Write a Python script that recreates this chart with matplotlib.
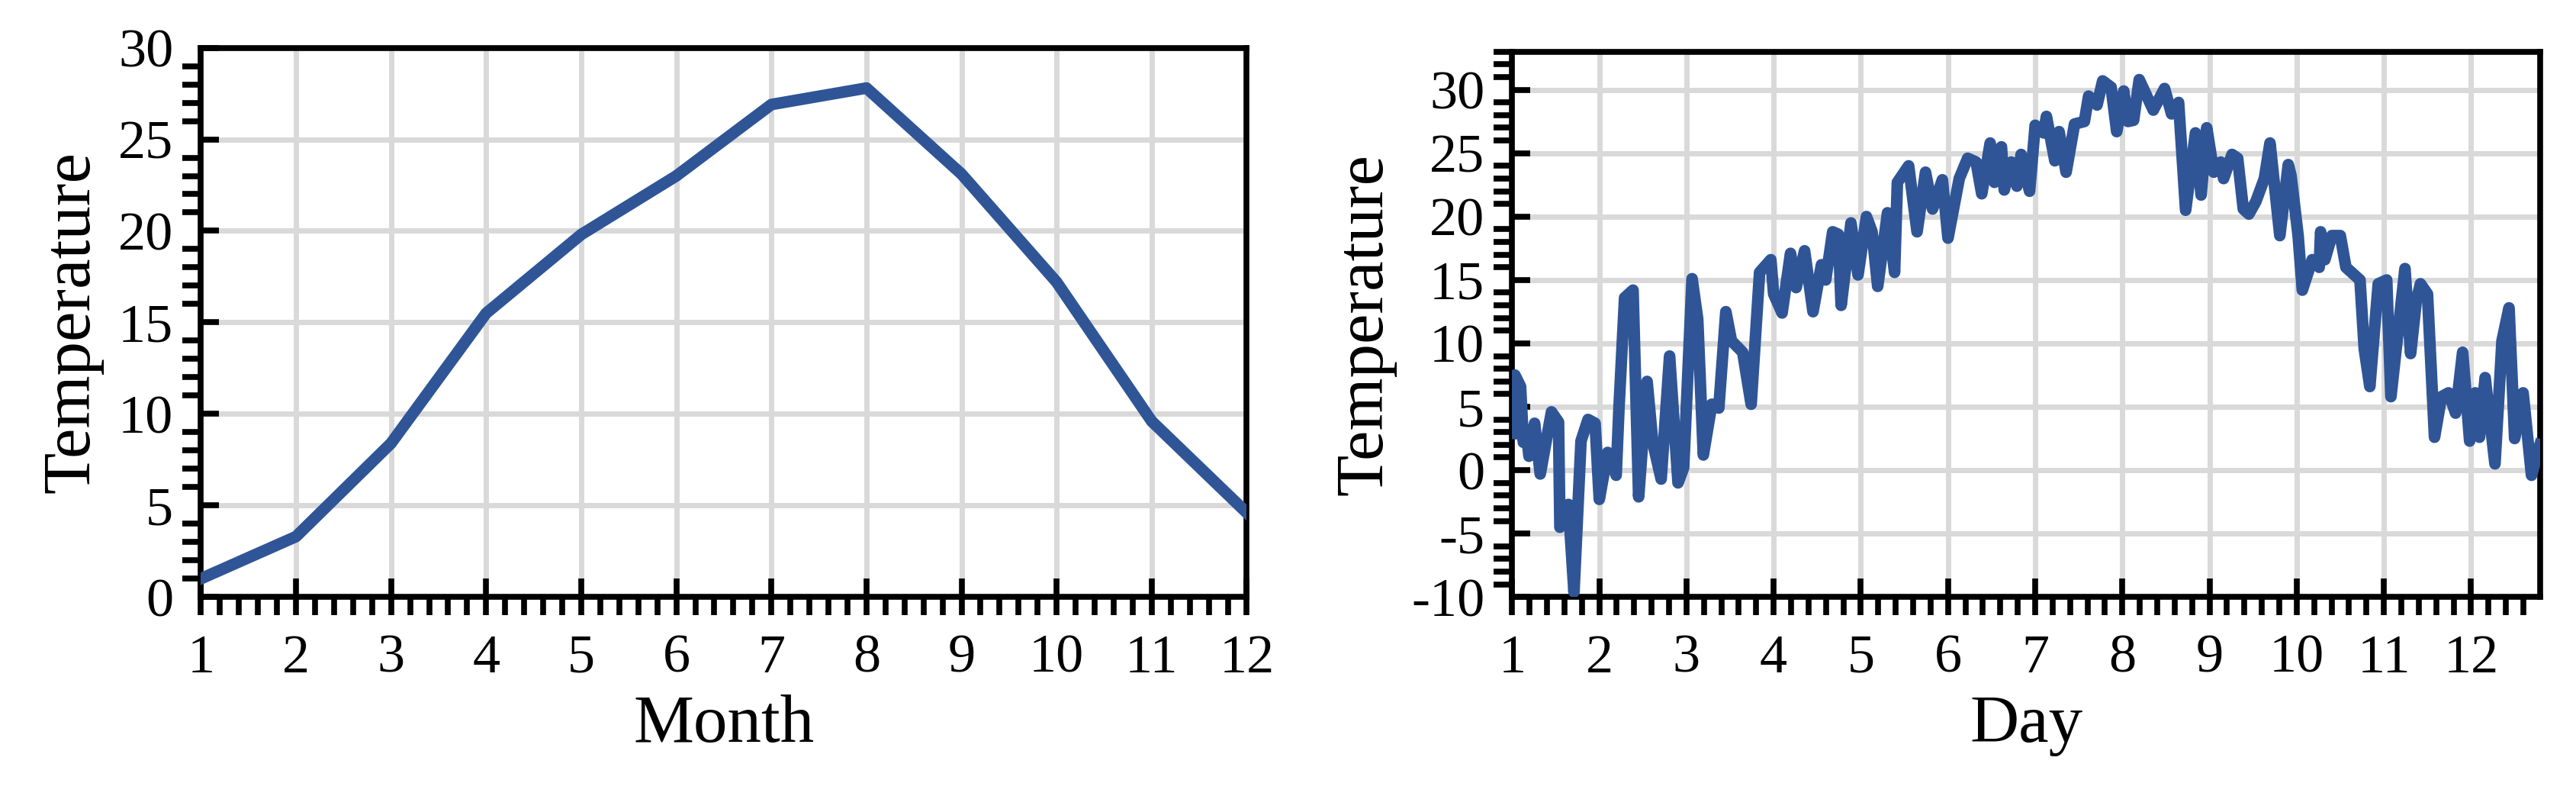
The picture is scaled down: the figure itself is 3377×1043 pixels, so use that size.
import matplotlib
matplotlib.use('Agg')
import matplotlib.pyplot as plt
from matplotlib.ticker import MultipleLocator

plt.rcParams['font.family'] = ['Liberation Serif', 'DejaVu Serif']
plt.rcParams['axes.unicode_minus'] = False

# monthly means
months = [1, 2, 3, 4, 5, 6, 7, 8, 9, 10, 11, 12]
month_temp = [1.0, 3.3, 8.4, 15.5, 19.8, 23.0, 26.9, 27.8, 23.1, 17.2, 9.6, 4.6]

# daily series (day of year, temperature)
days = [0, 1, 3, 4, 5, 6, 8, 10, 14, 16.5, 17, 20, 22, 24.5, 27, 29.5, 31, 34, 37, 38,
        40, 43, 45, 48, 50, 53, 56, 59, 61, 64, 66, 68, 71, 73.5, 76, 78, 82, 85, 88, 92,
        93, 96, 99, 101, 104, 107, 110, 111.5, 114, 116, 117, 120.5, 123, 126, 128, 130,
        133.5, 136, 137, 141, 144, 147, 149.5, 153, 155, 159, 162, 165, 167, 170, 171.5,
        174, 175, 177.5, 179.5, 181, 184, 186,
        189, 190, 193, 194.5, 197, 200, 203.5, 205, 208, 210, 213, 215, 217.5, 219, 221,
        223, 228, 232, 234.5, 237, 239.5, 243, 245, 247, 249.5, 252, 253, 256, 258, 260,
        262, 264.5, 267.5, 269.5, 273, 276, 277, 279.5, 281, 284.5, 287, 287.5, 289, 291.5,
        294.5, 296.5, 298, 301.5, 303, 305, 308, 311, 312.5, 317.5, 319.5, 321.5, 323,
        325.5, 328, 330.5, 333, 335.5, 338, 340.5, 342.5, 344, 346, 349.5, 352, 354.5,
        356.5, 359.5, 362.5, 365.5]
day_temp = [2.9, 7.5, 6.6, 2.2, 3.2, 1.1, 3.7, -0.3, 4.6, 3.8, -4.5, -2.7, -9.6, 2.3, 4.0,
            3.7, -2.3, 1.4, -0.4, 4.9, 13.6, 14.2, -2.1, 7.0, 2.2, -0.7, 9.0, -1.0, 0.2,
            15.1, 11.9, 1.2, 5.2, 4.9, 12.5, 10.2, 9.3, 5.2, 15.6, 16.6, 13.9, 12.4, 17.1,
            14.4, 17.3, 12.5, 16.2, 15.0, 18.8, 18.6, 13.0, 19.5, 15.4, 20.0, 18.8, 14.5,
            20.3, 15.6, 22.7, 24.0, 18.8, 23.5, 20.6, 22.9, 18.3, 23.0, 24.6, 24.3, 21.8,
            25.8, 22.7, 25.5, 22.1, 24.3, 22.4, 24.9, 22.0, 27.2,
            26.6, 27.9, 24.4, 26.7, 23.5, 27.3, 27.5, 29.5, 28.8, 30.7, 30.2, 26.7, 29.9,
            27.5, 27.6, 30.8, 28.4, 30.1, 28.1, 29.0, 20.5, 26.6, 21.7, 27.0, 23.5, 24.3,
            23.0, 24.9, 24.6, 20.6, 20.2, 21.2, 23.0, 25.8, 18.5, 24.1, 23.2, 18.5, 14.2,
            16.6, 16.0, 18.8, 16.6, 18.5, 18.5, 16.0, 15.7, 15.0, 9.6, 6.6, 14.7, 15.0, 5.8,
            15.9, 9.2, 13.3, 14.7, 13.9, 2.6, 5.8, 6.1, 4.5, 9.3, 2.3, 6.1, 2.6, 7.3, 0.5,
            10.2, 12.8, 2.5, 6.1, -0.4, 2.0]

blue = '#2f5597'
fig = plt.figure(figsize=(33.77, 10.43), dpi=100)
ax1 = fig.add_axes([0.078, 0.25, 0.406, 0.69])
ax2 = fig.add_axes([0.587, 0.25, 0.399, 0.685])


def style(ax):
    ax.grid(True, color='#d9d9d9', linewidth=5, zorder=0)
    ax.set_axisbelow(True)
    for s in ax.spines.values():
        s.set_linewidth(5.5)
    ax.tick_params(axis='x', which='major', direction='inout', length=34, width=5.5,
                   labelsize=52, pad=18)
    ax.tick_params(axis='x', which='minor', direction='out', length=17, width=5.5)
    ax.tick_params(axis='y', which='major', direction='in', length=17, width=5.5,
                   labelsize=52, pad=26)
    ax.tick_params(axis='y', which='minor', direction='out', length=17, width=5.5)
    ax.xaxis.set_major_locator(MultipleLocator(1))
    ax.xaxis.set_minor_locator(MultipleLocator(0.2))
    ax.yaxis.set_major_locator(MultipleLocator(5))
    ax.yaxis.set_minor_locator(MultipleLocator(1))


ax1.plot(months, month_temp, color=blue, linewidth=11, zorder=3)
ax1.set_xlim(1, 12)
ax1.set_ylim(0, 30)
style(ax1)
ax1.set_xlabel('Month', fontsize=64, labelpad=10)
ax1.set_ylabel('Temperature', fontsize=64, labelpad=14)

ax2.plot([1 + d / 31 for d in days], day_temp, color=blue, linewidth=11, zorder=3,
         solid_joinstyle='round')
ax2.set_xlim(1, 12.79)
ax2.set_ylim(-10, 33)
style(ax2)
ax2.set_xlabel('Day', fontsize=64, labelpad=10)
ax2.set_ylabel('Temperature', fontsize=64, labelpad=14)

fig.savefig('out.png', dpi=100)
